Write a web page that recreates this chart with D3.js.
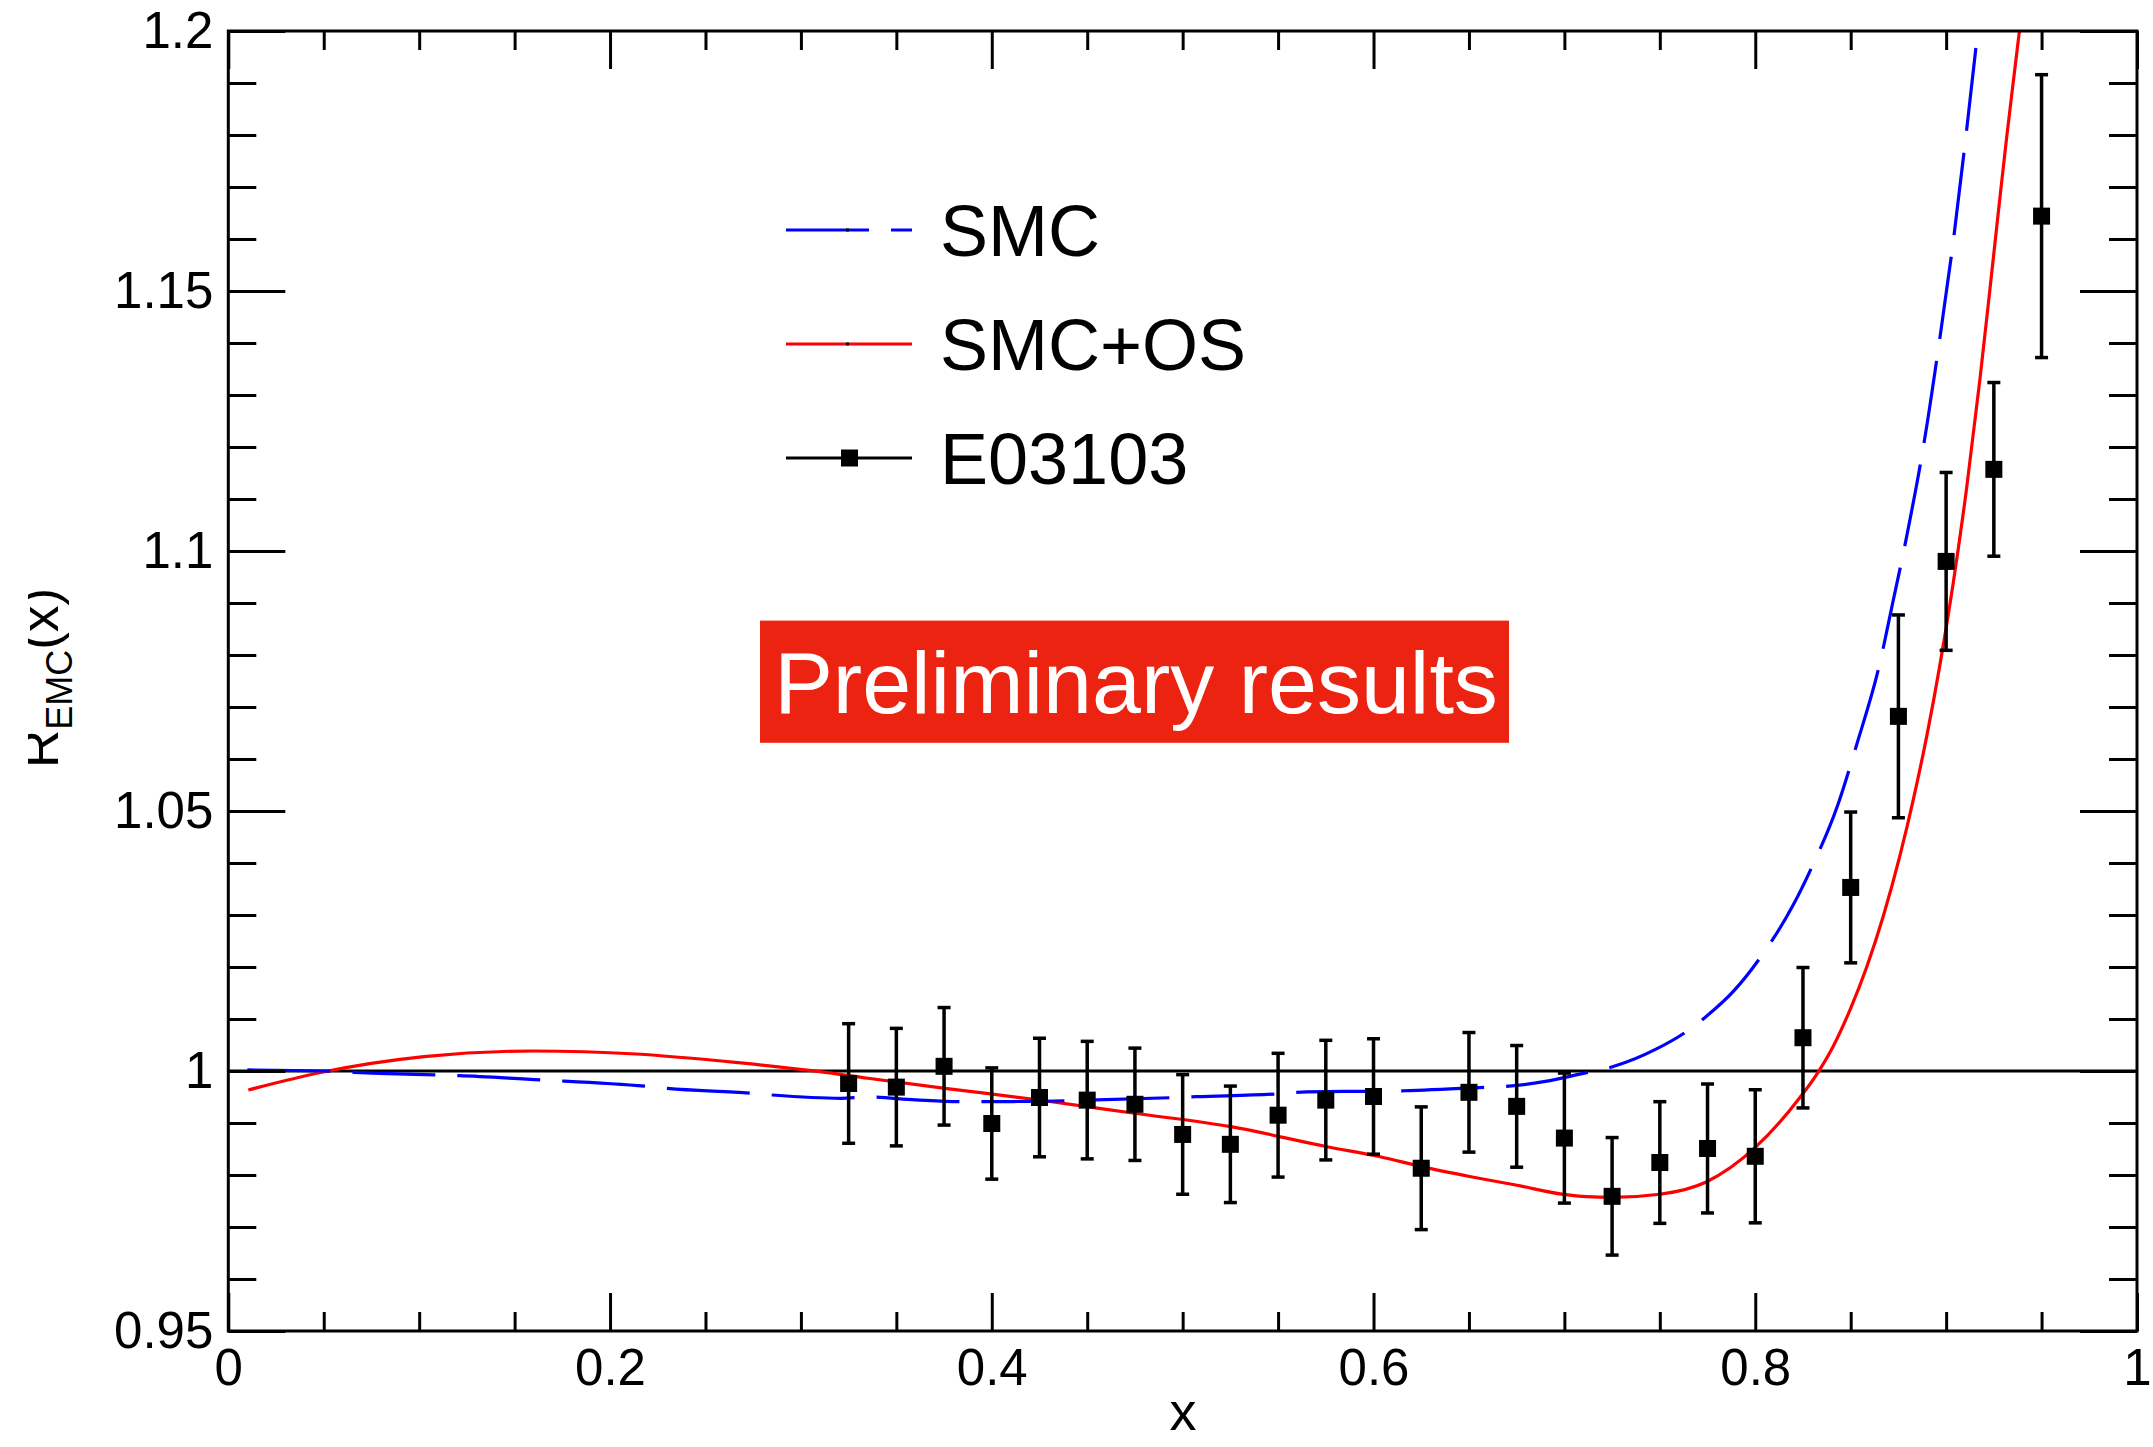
<!DOCTYPE html>
<html>
<head>
<meta charset="utf-8">
<script src="https://cdn.jsdelivr.net/npm/d3@7"></script>
<style>
  body { margin: 0; background: #ffffff; }
  text { font-family: "Liberation Sans", Arial, Helvetica, sans-serif; }
</style>
</head>
<body>
<div id="chart"></div>
<script>
// E03103 points
var dataX = [0.325, 0.35, 0.375, 0.4, 0.425, 0.45, 0.475, 0.5, 0.525, 0.55, 0.575, 0.6, 0.625,
    0.65, 0.675, 0.7, 0.725, 0.75, 0.775, 0.8, 0.825, 0.85, 0.875, 0.9, 0.925, 0.95];
var dataR = [0.9976, 0.9969, 1.0009, 0.9899, 0.9949, 0.9944, 0.9936, 0.9878, 0.9859, 0.9915, 0.9944, 0.9951, 0.9813,
    0.9959, 0.9932, 0.9871, 0.9759, 0.9824, 0.9851, 0.9836, 1.0064, 1.0353, 1.0682, 1.0980, 1.1157, 1.1644];
var dataErr = [0.0115, 0.0113, 0.0113, 0.0107, 0.0114, 0.0113, 0.0108, 0.0115, 0.0112, 0.0119, 0.0115, 0.0111, 0.0118,
    0.0115, 0.0117, 0.0125, 0.0113, 0.0117, 0.0124, 0.0128, 0.0135, 0.0145, 0.0195, 0.0171, 0.0167, 0.0272];

// SMC curve (dashed blue)
var smcX = [0.01, 0.05, 0.079, 0.109, 0.121, 0.164, 0.175, 0.219, 0.230, 0.274, 0.285, 0.321, 0.335, 0.36,
    0.384, 0.42, 0.452, 0.494, 0.507, 0.549, 0.565, 0.585, 0.603, 0.616, 0.66, 0.671, 0.69, 0.708, 0.726,
    0.748, 0.764, 0.774, 0.789, 0.803, 0.82, 0.83, 0.843, 0.853, 0.865, 0.872, 0.879, 0.889, 0.897, 0.903,
    0.911, 0.916, 0.918];
var smcR = [1.0002, 1.0000, 0.99954, 0.99923, 0.9991, 0.99827, 0.99808, 0.99706, 0.99667, 0.99571, 0.99538, 0.99475,
    0.99500, 0.99445, 0.9941, 0.99415, 0.99442, 0.99487, 0.99506, 0.99558, 0.9960, 0.9961, 0.9961, 0.9962, 0.9969,
    0.9971, 0.9980, 0.9994, 1.0009, 1.0042, 1.0076, 1.0104, 1.0155, 1.0220, 1.0320, 1.0395, 1.0509, 1.0626,
    1.0780, 1.0900, 1.1022, 1.1221, 1.1417, 1.1575, 1.1818, 1.1980, 1.2040];

// SMC+OS curve (solid red)
var smcOsX = [0.0105, 0.049, 0.1025, 0.16, 0.2137, 0.2671, 0.3099, 0.3352, 0.3755, 0.4249, 0.4747, 0.5252,
    0.5757, 0.6034, 0.6252, 0.651, 0.6745, 0.6994, 0.7117, 0.725, 0.75, 0.7746, 0.8, 0.8234, 0.8322,
    0.841, 0.8496, 0.8584, 0.8671, 0.8758, 0.8828, 0.8898, 0.8968, 0.9037, 0.9107, 0.9177, 0.923, 0.9273,
    0.9317, 0.9357, 0.9384, 0.941];
var smcOsR = [0.99635, 0.99975, 1.00275, 1.00385, 1.00327, 1.0016, 0.99987, 0.9986, 0.99667, 0.99442, 0.99187, 0.98929,
    0.98544, 0.98352, 0.9816, 0.97967, 0.97808, 0.97629, 0.97583, 0.9757, 0.9763, 0.97871, 0.9853, 0.9949,
    0.99937, 1.00487, 1.01173, 1.0200, 1.0298, 1.0414, 1.0522, 1.0643, 1.0782, 1.0938, 1.1120, 1.1330, 1.1505,
    1.1650, 1.1795, 1.1918, 1.2000, 1.2080];

var xTickValues = [0, 0.2, 0.4, 0.6, 0.8, 1];
var xTickLabels = ["0", "0.2", "0.4", "0.6", "0.8", "1"];
var yTickValues = [0.95, 1, 1.05, 1.1, 1.15, 1.2];
var yTickLabels = ["0.95", "1", "1.05", "1.1", "1.15", "1.2"];

var legendLabels = ["SMC", "SMC+OS", "E03103"];
var legendColors = ["#0000ff", "#ff0000", "#000000"];

var svgWidth = 2153;
var svgHeight = 1447;
var margin = { top: 31, right: 16, bottom: 116, left: 228.3 };
var width = svgWidth - margin.left - margin.right;
var height = svgHeight - margin.top - margin.bottom;

var svg = d3
    .select("#chart")
    .append("svg")
    .attr("width", svgWidth)
    .attr("height", svgHeight);

var defs = svg.append("defs");
defs.append("clipPath").attr("id", "plotClip")
    .append("rect").attr("width", width).attr("height", height);
defs.append("clipPath").attr("id", "titleClip")
    .append("rect").attr("x", 28).attr("y", 0).attr("width", 400).attr("height", svgHeight);

var chartGroup = svg
    .append("g")
    .attr("transform", `translate(${margin.left}, ${margin.top})`);

// scales
var xScale = d3.scaleLinear().domain([0, 1]).range([0, width]);
var yScale = d3.scaleLinear().domain([0.95, 1.2]).range([height, 0]);

var xMinor = d3.range(0, 1.0001, 0.05).filter((d) => Math.abs(d * 5 - Math.round(d * 5)) > 1e-6);
var yMinor = d3.range(0.95, 1.2001, 0.01).filter((d) => Math.abs(d * 20 - Math.round(d * 20)) > 1e-6);

// reference line at 1
chartGroup
    .append("line")
    .attr("x1", xScale(0))
    .attr("x2", xScale(1))
    .attr("y1", yScale(1))
    .attr("y2", yScale(1))
    .attr("stroke", "black")
    .attr("stroke-width", 3);

// curves
var lineGen = d3
    .line()
    .x((d) => xScale(d[0]))
    .y((d) => yScale(d[1]))
    .curve(d3.curveMonotoneX);

var curves = chartGroup.append("g").attr("clip-path", "url(#plotClip)");

curves
    .append("path")
    .datum(d3.zip(smcOsX, smcOsR))
    .attr("d", lineGen)
    .attr("fill", "none")
    .attr("stroke", "#ff0000")
    .attr("stroke-width", 3.2);

curves
    .append("path")
    .datum(d3.zip(smcX, smcR))
    .attr("d", lineGen)
    .attr("fill", "none")
    .attr("stroke", "#0000ff")
    .attr("stroke-width", 3.2)
    .attr("stroke-dasharray", "83 22");

// error bars
var points = d3.range(dataX.length).map((i) => ({ x: dataX[i], r: dataR[i], e: dataErr[i] }));

var bars = chartGroup.append("g").attr("stroke", "black").attr("stroke-width", 3.5);
bars.selectAll("line.err")
    .data(points)
    .join("line")
    .attr("class", "err")
    .attr("x1", (d) => xScale(d.x))
    .attr("x2", (d) => xScale(d.x))
    .attr("y1", (d) => yScale(d.r + d.e))
    .attr("y2", (d) => yScale(d.r - d.e));
bars.selectAll("line.capTop")
    .data(points)
    .join("line")
    .attr("class", "capTop")
    .attr("x1", (d) => xScale(d.x) - 6.5)
    .attr("x2", (d) => xScale(d.x) + 6.5)
    .attr("y1", (d) => yScale(d.r + d.e))
    .attr("y2", (d) => yScale(d.r + d.e));
bars.selectAll("line.capBot")
    .data(points)
    .join("line")
    .attr("class", "capBot")
    .attr("x1", (d) => xScale(d.x) - 6.5)
    .attr("x2", (d) => xScale(d.x) + 6.5)
    .attr("y1", (d) => yScale(d.r - d.e))
    .attr("y2", (d) => yScale(d.r - d.e));

// markers
chartGroup
    .selectAll("rect.marker")
    .data(points)
    .join("rect")
    .attr("class", "marker")
    .attr("x", (d) => xScale(d.x) - 8.5)
    .attr("y", (d) => yScale(d.r) - 8.5)
    .attr("width", 17)
    .attr("height", 17)
    .attr("fill", "black");

// axes
function styleAxis(g) {
    g.select(".domain").remove();
    g.selectAll(".tick line").attr("stroke", "black").attr("stroke-width", 3);
    g.selectAll(".tick text").attr("fill", "black").style("font-size", "51px");
}

chartGroup.append("g")
    .attr("transform", `translate(0, ${height})`)
    .call(d3.axisBottom(xScale).tickValues(xTickValues).tickSizeInner(-38).tickSizeOuter(0)
        .tickPadding(18).tickFormat((d, i) => xTickLabels[i]))
    .call(styleAxis);
chartGroup.append("g")
    .attr("transform", `translate(0, ${height})`)
    .call(d3.axisBottom(xScale).tickValues(xMinor).tickSizeInner(-19).tickSizeOuter(0).tickFormat(""))
    .call(styleAxis);
chartGroup.append("g")
    .call(d3.axisTop(xScale).tickValues(xTickValues).tickSizeInner(-38).tickSizeOuter(0).tickFormat(""))
    .call(styleAxis);
chartGroup.append("g")
    .call(d3.axisTop(xScale).tickValues(xMinor).tickSizeInner(-19).tickSizeOuter(0).tickFormat(""))
    .call(styleAxis);

chartGroup.append("g")
    .call(d3.axisLeft(yScale).tickValues(yTickValues).tickSizeInner(-57).tickSizeOuter(0)
        .tickPadding(15).tickFormat((d, i) => yTickLabels[i]))
    .call(styleAxis);
chartGroup.append("g")
    .call(d3.axisLeft(yScale).tickValues(yMinor).tickSizeInner(-28).tickSizeOuter(0).tickFormat(""))
    .call(styleAxis);
chartGroup.append("g")
    .attr("transform", `translate(${width}, 0)`)
    .call(d3.axisRight(yScale).tickValues(yTickValues).tickSizeInner(-57).tickSizeOuter(0).tickFormat(""))
    .call(styleAxis);
chartGroup.append("g")
    .attr("transform", `translate(${width}, 0)`)
    .call(d3.axisRight(yScale).tickValues(yMinor).tickSizeInner(-28).tickSizeOuter(0).tickFormat(""))
    .call(styleAxis);

// frame
chartGroup
    .append("rect")
    .attr("width", width)
    .attr("height", height)
    .attr("fill", "none")
    .attr("stroke", "black")
    .attr("stroke-width", 3);

// legend
var legend = svg.append("g").attr("transform", "translate(786, 230)");
legendLabels.forEach(function(label, i) {
    var row = legend.append("g").attr("transform", `translate(0, ${i * 114})`);
    row.append("line")
        .attr("x1", 0)
        .attr("x2", 126)
        .attr("stroke", legendColors[i])
        .attr("stroke-width", 3)
        .attr("stroke-dasharray", i === 0 ? "83 22" : null);
    if (i === 2) {
        row.append("rect").attr("x", 55).attr("y", -8.5).attr("width", 17).attr("height", 17).attr("fill", "black");
    } else {
        row.append("rect").attr("x", 60).attr("y", -1.5).attr("width", 3).attr("height", 3).attr("fill", "black");
    }
    row.append("text")
        .attr("x", 154)
        .attr("y", 26)
        .style("font-size", "72px")
        .attr("fill", "black")
        .text(label);
});

// preliminary label
svg.append("rect")
    .attr("x", 760)
    .attr("y", 620.6)
    .attr("width", 749)
    .attr("height", 122.2)
    .attr("fill", "#ec2310");
svg.append("text")
    .attr("x", 1136)
    .attr("y", 713)
    .attr("text-anchor", "middle")
    .attr("fill", "white")
    .style("font-size", "88px")
    .text("Preliminary results");

// axes labels
svg.append("text")
    .attr("x", 1183)
    .attr("y", 1430)
    .attr("text-anchor", "middle")
    .style("font-size", "54px")
    .text("x");

var yTitle = svg.append("g").attr("clip-path", "url(#titleClip)")
    .append("text")
    .attr("transform", "rotate(-90)")
    .attr("x", -678)
    .attr("y", 58)
    .attr("text-anchor", "middle")
    .style("font-size", "53px");
yTitle.append("tspan").text("R");
yTitle.append("tspan").attr("dy", 14).style("font-size", "36px").text("EMC");
yTitle.append("tspan").attr("dy", -14).text("(x)");
</script>
</body>
</html>
